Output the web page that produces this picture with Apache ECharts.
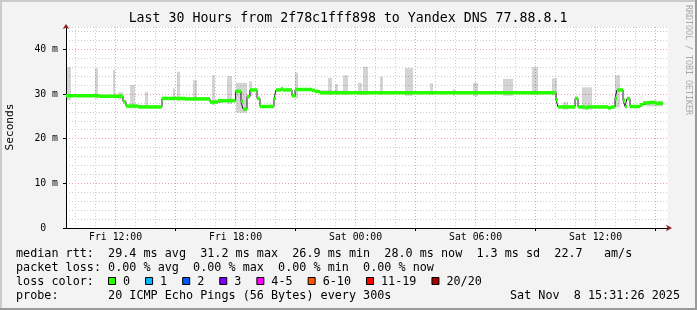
<!DOCTYPE html>
<html><head><meta charset="utf-8">
<script src="https://cdn.jsdelivr.net/npm/echarts@6/dist/echarts.min.js"></script>
<style>html,body{margin:0;padding:0;background:#f3f3f3}#c{width:697px;height:310px}</style>
</head><body><div id="c"></div><script>
// x values are hours since Fri 00:00
const xMin = 9.52, xMax = 39.52;
const medianStart = [9.52, 11.22, 12.37, 12.52, 13.12, 14.32, 15.47, 16.72, 17.12, 18.00, 18.27, 18.37, 18.57, 18.72, 19.07, 19.22, 19.92, 20.02, 20.27, 20.37, 20.82, 20.97, 21.82, 21.97, 22.12, 22.22, 34.02, 34.12, 34.97, 35.12, 35.47, 35.57, 36.62, 36.77, 36.97, 37.07, 37.37, 37.47, 37.57, 37.72, 38.22, 38.37, 38.72, 39.02];
const medianValue = [29.6, 29.5, 28.3, 27.3, 27.1, 29.0, 28.9, 28.2, 28.5, 30.6, 28.3, 26.6, 29.4, 30.9, 29.0, 27.2, 29.0, 30.9, 31.2, 30.9, 29.6, 31.0, 30.8, 30.6, 30.5, 30.3, 28.7, 27.1, 29.0, 27.1, 26.9, 27.1, 26.9, 27.1, 29.0, 30.9, 28.6, 27.2, 29.0, 27.2, 27.6, 28.0, 28.1, 27.9];
const medianEnd = 39.37;

const smokeStart = [9.52, 10.97, 11.87, 12.12, 12.72, 13.47, 14.87, 15.07, 15.87, 16.82, 17.57, 18.02, 18.67, 20.97, 22.62, 22.97, 23.37, 24.12, 24.37, 25.22, 26.47, 27.72, 28.87, 29.87, 31.37, 32.82, 33.82, 34.37, 35.32, 36.97, 38.57];
const smokeEnd   = [9.77, 11.12, 11.97, 12.37, 12.97, 13.62, 14.97, 15.22, 16.07, 16.97, 17.82, 18.57, 18.82, 21.12, 22.82, 23.12, 23.62, 24.32, 24.62, 25.37, 26.87, 27.87, 28.97, 30.12, 31.87, 33.12, 34.07, 34.62, 35.82, 37.22, 39.37];
const smokeLow   = [28.6, 29.0, 29.0, 28.8, 26.8, 26.8, 28.5, 28.5, 28.4, 27.5, 27.8, 25.8, 29.5, 29.0, 29.8, 29.8, 29.8, 29.8, 29.8, 29.8, 29.6, 29.8, 29.6, 29.5, 29.6, 29.8, 29.7, 26.5, 26.5, 27.0, 27.2];
const smokeHigh  = [36.0, 35.8, 35.4, 30.4, 32.0, 30.5, 31.3, 35.0, 33.1, 34.2, 34.0, 32.5, 32.8, 34.8, 33.6, 32.2, 34.2, 32.5, 36.1, 33.9, 35.8, 32.4, 31.1, 32.5, 33.4, 36.0, 33.5, 28.2, 31.5, 34.2, 28.5];

const xLabelHours = [12, 18, 24, 30, 36];
const xLabels = ['Fri 12:00', 'Fri 18:00', 'Sat 00:00', 'Sat 06:00', 'Sat 12:00'];
const xTickHours = [15, 21, 27, 33, 39];
const majorGridHours = [12, 15, 18, 21, 24, 27, 30, 33, 36, 39];
const minorGridHours = [10, 11, 13, 14, 16, 17, 19, 20, 22, 23, 25, 26, 28, 29, 31, 32, 34, 35, 37, 38];
const yLabelValues = [0, 10, 20, 30, 40];
const yLabels = ['0  ', '10 m', '20 m', '30 m', '40 m'];
const yMinorGrid = [2, 4, 6, 8, 12, 14, 16, 18, 22, 24, 26, 28, 32, 34, 36, 38, 42, 44, 45];

const legendNames = ['0', '1', '2', '3', '4-5', '6-10', '11-19', '20/20'];
const legendColors = ['#26ff00', '#00b8ff', '#0059ff', '#7e00ff', '#ff00ff', '#ff5500', '#ff0000', '#a10000'];

const titleText = 'Last 30 Hours from 2f78c1fff898 to Yandex DNS 77.88.8.1';
const statsLine1 = 'median rtt:  29.4 ms avg  31.2 ms max  26.9 ms min  28.0 ms now  1.3 ms sd  22.7   am/s';
const statsLine2 = 'packet loss: 0.00 % avg  0.00 % max  0.00 % min  0.00 % now';
const statsLine3 = 'loss color:';
const probeLine = 'probe:       20 ICMP Echo Pings (56 Bytes) every 300s';
const dateText = 'Sat Nov  8 15:31:26 2025';
const yName = 'Seconds';
const watermark = 'RRDTOOL / TOBI OETIKER';

const mono = '"DejaVu Sans Mono", monospace';
const dotted = [1, 2];

// build series data
const blackData = medianStart.map((s, i) => [s, medianValue[i]]);
blackData.push([medianEnd, medianValue[medianValue.length - 1]]);
const greenData = medianStart.map((s, i) => [s, i + 1 < medianStart.length ? medianStart[i + 1] : medianEnd, medianValue[i]]);
const smokeData = smokeStart.map((s, i) => [s, smokeEnd[i], smokeLow[i], smokeHigh[i]]);

// graphic decorations
const graphics = [];
const txt = (x, y, text, size, align, extra) => Object.assign({
  type: 'text', x: x, y: y, silent: true,
  style: { text: text, font: size + 'px ' + mono, fill: '#000', align: align || 'left', verticalAlign: 'middle' }
}, extra || {});
graphics.push(txt(348, 19, titleText, 13.26, 'center'));
graphics.push(txt(16, 254, statsLine1, 11.78));
graphics.push(txt(16, 268, statsLine2, 11.78));
graphics.push(txt(16, 282, statsLine3, 11.78));
graphics.push(txt(16, 296, probeLine, 11.78));
graphics.push(txt(680, 296, dateText, 11.78, 'right'));
graphics.push(txt(10, 127, yName, 11.2, 'center', { rotation: Math.PI / 2 }));
const wm = txt(688, 60, watermark, 8.3, 'center', { rotation: -Math.PI / 2 });
wm.style.fill = '#a8a8a8';
graphics.push(wm);
let bx = 108;
legendNames.forEach((n, i) => {
  graphics.push({ type: 'rect', silent: true, shape: { x: bx + 0.5, y: 277.5, width: 7, height: 7 },
    style: { fill: legendColors[i], stroke: '#000', lineWidth: 1 } });
  graphics.push(txt(bx + 15, 282, n, 11.78));
  bx += 30 + 7.09 * n.length;
});
// frame shading
graphics.push({ type: 'rect', silent: true, shape: { x: 0, y: 0, width: 697, height: 2 }, style: { fill: '#cbcbcb' } });
graphics.push({ type: 'rect', silent: true, shape: { x: 0, y: 0, width: 2, height: 310 }, style: { fill: '#cbcbcb' } });
graphics.push({ type: 'rect', silent: true, shape: { x: 0, y: 308, width: 697, height: 2 }, style: { fill: '#999999' } });
graphics.push({ type: 'rect', silent: true, shape: { x: 695, y: 0, width: 2, height: 310 }, style: { fill: '#999999' } });

const chart = echarts.init(document.getElementById('c'), null, { renderer: 'canvas', width: 697, height: 310 });
chart.setOption({
  animation: false,
  backgroundColor: '#f3f3f3',
  grid: { left: 66, top: 27, width: 602, height: 201, show: true, backgroundColor: '#ffffff', borderWidth: 0 },
  xAxis: [
    { type: 'value', min: xMin, max: xMax + 0.1, position: 'bottom',
      axisLine: { show: false },
      axisTick: { show: false, customValues: minorGridHours }, axisLabel: { show: false },
      splitLine: { show: true, lineStyle: { color: '#cccccc', type: dotted, width: 1 } } },
    { type: 'value', min: xMin, max: xMax + 0.1, position: 'bottom',
      axisLine: { show: true, onZero: false, symbol: ['none', 'arrow'], symbolSize: [5, 6], symbolOffset: [0, 4],
        lineStyle: { color: '#8b1c1c', width: 0 } },
      axisTick: { show: false, customValues: majorGridHours }, axisLabel: { show: false },
      splitLine: { show: true, lineStyle: { color: '#eaa4a4', type: dotted, width: 1 } } },
    { type: 'value', min: xMin, max: xMax + 0.1, position: 'bottom',
      axisLine: { show: true, onZero: false, lineStyle: { color: '#000', width: 1 } },
      axisTick: { show: true, customValues: xTickHours, length: 3, lineStyle: { color: '#000' } },
      axisLabel: { show: true, customValues: xLabelHours, formatter: v => xLabels[xLabelHours.indexOf(v)] || '',
        fontFamily: mono, fontSize: 9.8, color: '#000', margin: 4 },
      splitLine: { show: false } }
  ],
  yAxis: [
    { type: 'value', min: 0, max: 45, position: 'left',
      axisLine: { show: true, onZero: false, symbol: ['none', 'arrow'], symbolSize: [5, 5], symbolOffset: [0, 3],
        lineStyle: { color: '#8b1c1c', width: 0 } },
      axisTick: { show: false, customValues: yMinorGrid }, axisLabel: { show: false },
      splitLine: { show: true, lineStyle: { color: '#cccccc', type: dotted, width: 1 } } },
    { type: 'value', min: 0, max: 45, position: 'left',
      axisLine: { show: true, onZero: false, lineStyle: { color: '#000', width: 1 } },
      axisTick: { show: true, customValues: yLabelValues, length: 3, lineStyle: { color: '#000' } },
      axisLabel: { show: true, customValues: yLabelValues, formatter: v => yLabels[yLabelValues.indexOf(v)] || '',
        fontFamily: mono, fontSize: 9.8, color: '#000', margin: 8 },
      splitLine: { show: true, showMinLine: false, lineStyle: { color: '#eaa4a4', type: dotted, width: 1 } } }
  ],
  series: [
    { type: 'custom', xAxisIndex: 2, yAxisIndex: 1, silent: true, clip: true, z: 1,
      encode: { x: [0, 1], y: [2, 3] },
      data: smokeData,
      renderItem: (params, api) => {
        const p0 = api.coord([api.value(0), api.value(3)]);
        const p1 = api.coord([api.value(1), api.value(2)]);
        return { type: 'rect', shape: { x: p0[0], y: p0[1], width: p1[0] - p0[0], height: p1[1] - p0[1] },
          style: { fill: 'rgba(0,0,0,0.17)' } };
      } },
    { type: 'line', xAxisIndex: 2, yAxisIndex: 1, step: 'end', symbol: 'none', silent: true, z: 2,
      lineStyle: { color: '#202020', width: 1 }, data: blackData },
    { type: 'custom', xAxisIndex: 2, yAxisIndex: 1, silent: true, clip: true, z: 5,
      encode: { x: [0, 1], y: 2 },
      data: greenData,
      renderItem: (params, api) => {
        const p0 = api.coord([api.value(0), api.value(2)]);
        const p1 = api.coord([api.value(1), api.value(2)]);
        return { type: 'rect', z2: 10, shape: { x: p0[0], y: p0[1] - 1.75, width: p1[0] - p0[0], height: 3.5 },
          style: { fill: '#26ff00' } };
      } }
  ],
  graphic: graphics
});
</script></body></html>
